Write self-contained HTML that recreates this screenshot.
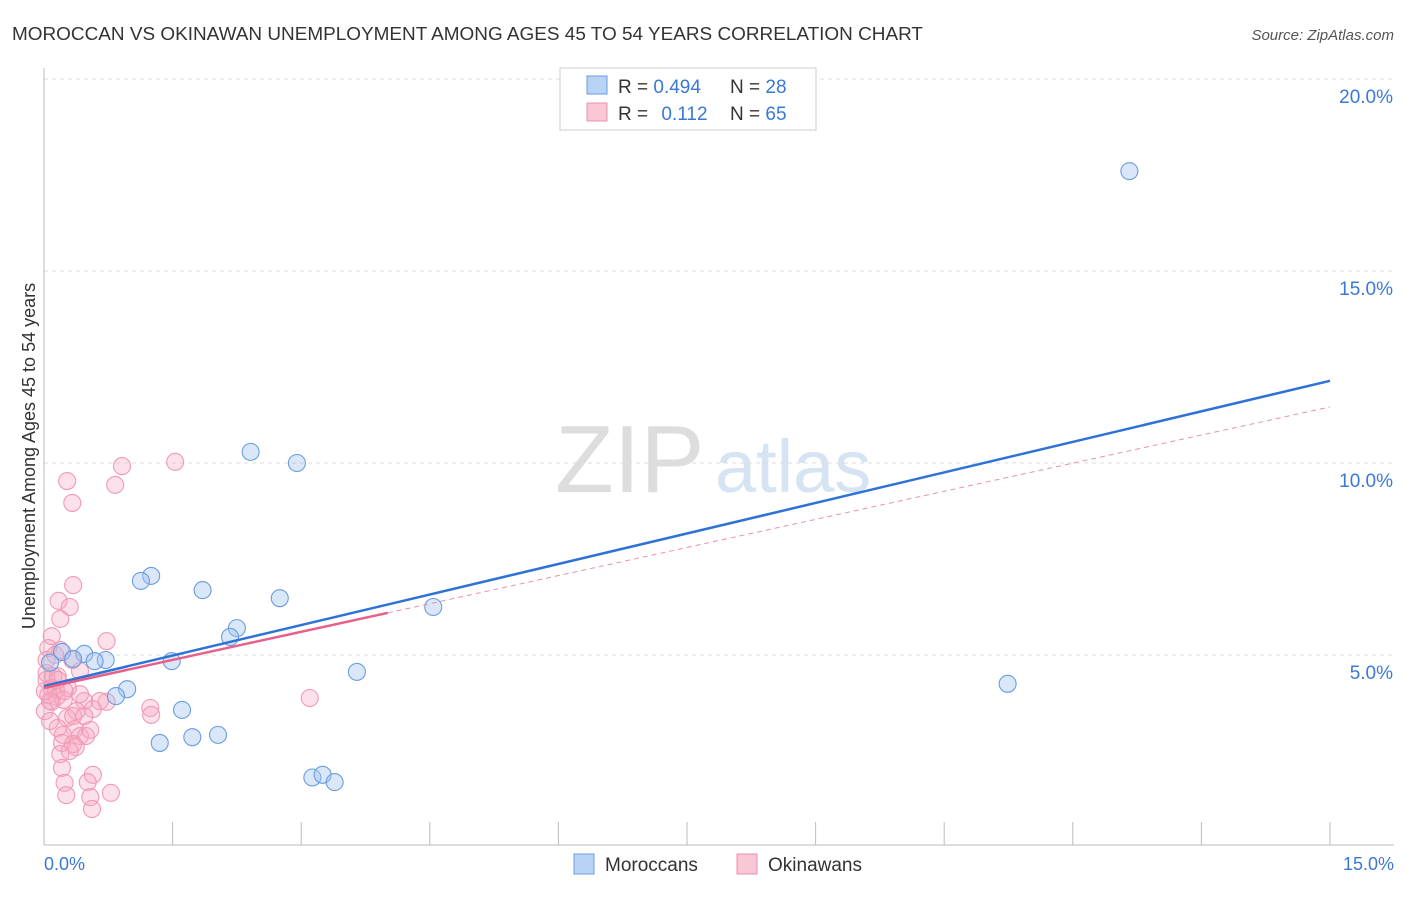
<!DOCTYPE html>
<html><head><meta charset="utf-8"><style>
body{margin:0;background:#fff;font-family:"Liberation Sans",sans-serif;}
svg text{font-family:"Liberation Sans",sans-serif;}
</style></head><body>
<svg id="chart" width="1406" height="892">
<text x="12" y="40" font-size="18" fill="#333" textLength="911" lengthAdjust="spacingAndGlyphs">MOROCCAN VS OKINAWAN UNEMPLOYMENT AMONG AGES 45 TO 54 YEARS CORRELATION CHART</text>
<text x="1394" y="40" font-size="15" fill="#555" font-style="italic" text-anchor="end">Source: ZipAtlas.com</text>
<g>
<text x="555" y="492" font-size="96" fill="#ddd" font-family="Liberation Serif">ZIP</text>
<text x="715" y="492" font-size="74" fill="#d5e3f3">atlas</text>
</g>
<g id="grid"></g>
<g id="axes"></g>
<g id="points"></g>
<g id="lines"></g>
<text x="35" y="456" font-size="18" fill="#333" text-anchor="middle" transform="rotate(-90 35 456)">Unemployment Among Ages 45 to 54 years</text>
<text x="44" y="870" font-size="18" fill="#3a78d6">0.0%</text>
<text x="1394" y="870" font-size="18" fill="#3a78d6" text-anchor="end">15.0%</text>
<g>
<rect x="560" y="68" width="256" height="62" fill="#fff" stroke="#ccc"/>
<rect x="587" y="76" width="20" height="18" fill="#b8d3f4" stroke="#6a9de0"/>
<rect x="587" y="103" width="20" height="18" fill="#f9c6d5" stroke="#ec8fab"/>
<text x="618" y="93" font-size="19" fill="#333">R = <tspan fill="#3a78d6">0.494</tspan></text>
<text x="730" y="93" font-size="19" fill="#333">N = <tspan fill="#3a78d6">28</tspan></text>
<text x="618" y="120" font-size="19" fill="#333">R = <tspan fill="#3a78d6" dx="8">0.112</tspan></text>
<text x="730" y="120" font-size="19" fill="#333">N = <tspan fill="#3a78d6">65</tspan></text>
</g>
<g>
<rect x="574" y="854" width="20" height="20" fill="#b8d3f4" stroke="#6a9de0"/>
<text x="605" y="871" font-size="19" fill="#333">Moroccans</text>
<rect x="737" y="854" width="20" height="20" fill="#f9c6d5" stroke="#ec8fab"/>
<text x="768" y="871" font-size="19" fill="#333">Okinawans</text>
</g>
</svg>
<script>
const yTicks=[5,10,15,20];
const moroX=[12.66,2.41,2.95,1.25,1.13,1.85,2.75,4.54,2.25,2.17,0.47,0.21,0.34,0.72,1.49,0.59,3.65,11.24,0.97,0.84,1.61,1.73,2.03,1.35,3.13,3.25,3.39,0.07];
const moroY=[17.6,10.29,10.0,7.06,6.93,6.69,6.48,6.25,5.70,5.47,5.03,5.08,4.90,4.87,4.84,4.84,4.56,4.25,4.11,3.93,3.57,2.86,2.92,2.71,1.81,1.88,1.69,4.8];
const okiX=[0.91,1.53,0.27,0.83,0.33,0.34,0.17,0.30,0.19,0.09,0.73,0.05,0.19,0.33,0.42,0.03,0.16,0.03,0.09,0.14,0.28,0.05,0.15,0.23,0.09,0.47,0.73,3.10,0.57,1.24,0.38,0.27,0.34,0.47,1.25,0.16,0.36,0.22,0.42,0.49,0.21,0.34,0.37,0.19,0.21,0.57,0.51,0.24,0.26,0.78,0.54,0.56,0.03,0.13,0.07,0.01,0.24,0.11,0.42,0.65,0.01,0.30,0.07,0.16,0.54];
const okiY=[9.92,10.03,9.53,9.43,8.96,6.82,6.41,6.25,5.94,5.49,5.36,5.18,5.13,4.87,4.58,4.53,4.45,4.35,4.14,4.09,4.14,3.96,3.91,3.83,3.78,3.80,3.78,3.88,3.59,3.62,3.54,3.36,3.41,3.41,3.44,3.10,3.07,2.92,2.89,2.89,2.71,2.68,2.60,2.42,2.06,1.88,1.69,1.67,1.35,1.41,1.30,0.99,4.87,5.00,3.80,4.06,4.06,4.45,3.98,3.80,3.54,2.50,3.28,4.35,3.05];
const blueLine=[4.19,12.14];
const pinkLine=[4.14,11.46];
const pinkSolidEnd=4.01;
const NS='http://www.w3.org/2000/svg';
const X=v=>44+v/15*1286;
const Y=v=>847-v*38.4;
function mk(t,a,p){const e=document.createElementNS(NS,t);for(const k in a)e.setAttribute(k,a[k]);document.getElementById(p).appendChild(e);return e;}
yTicks.forEach(t=>{
 const l=mk('line',{x1:44,x2:1394,y1:Y(t),y2:Y(t),stroke:'#ddd','stroke-dasharray':'4,4'},'grid');
 
 
 const tx=mk('text',{x:1393,y:Y(t)+24,'font-size':19,fill:'#3a78d6','text-anchor':'end'},'grid');
 tx.textContent=t.toFixed(1)+'%';
 
 
});
let a=mk('line',{x1:44,x2:44,y1:68,y2:845,stroke:'#bbb'},'axes');


a=mk('line',{x1:44,x2:1394,y1:845,y2:845,stroke:'#bbb'},'axes');


for(let i=1;i<=10;i++){
 const t=mk('line',{x1:X(i*1.5),x2:X(i*1.5),y1:822,y2:845,stroke:'#bbb'},'axes');
 
 
}
okiX.forEach((v,i)=>{
 const c=mk('circle',{cx:X(v),cy:Y(okiY[i]),r:8.5,fill:'rgba(246,170,195,0.35)',stroke:'#f09ab4','stroke-width':1.1},'points');
 
 
});
moroX.forEach((v,i)=>{
 const c=mk('circle',{cx:X(v),cy:Y(moroY[i]),r:8.5,fill:'rgba(160,196,240,0.4)',stroke:'#6a9de0','stroke-width':1.1},'points');
 
 
});
const pAt=x=>pinkLine[0]+(pinkLine[1]-pinkLine[0])*x/15;
let l=mk('line',{x1:X(pinkSolidEnd),y1:Y(pAt(pinkSolidEnd)),x2:X(15),y2:Y(pinkLine[1]),stroke:'#ec8fab','stroke-width':1,'stroke-dasharray':'5,4'},'lines');


l=mk('line',{x1:X(0),y1:Y(blueLine[0]),x2:X(15),y2:Y(blueLine[1]),stroke:'#2e72d8','stroke-width':2.5},'lines');


l=mk('line',{x1:X(0),y1:Y(pinkLine[0]),x2:X(pinkSolidEnd),y2:Y(pAt(pinkSolidEnd)),stroke:'#e8608a','stroke-width':2.5},'lines');


</script>
</body></html>
